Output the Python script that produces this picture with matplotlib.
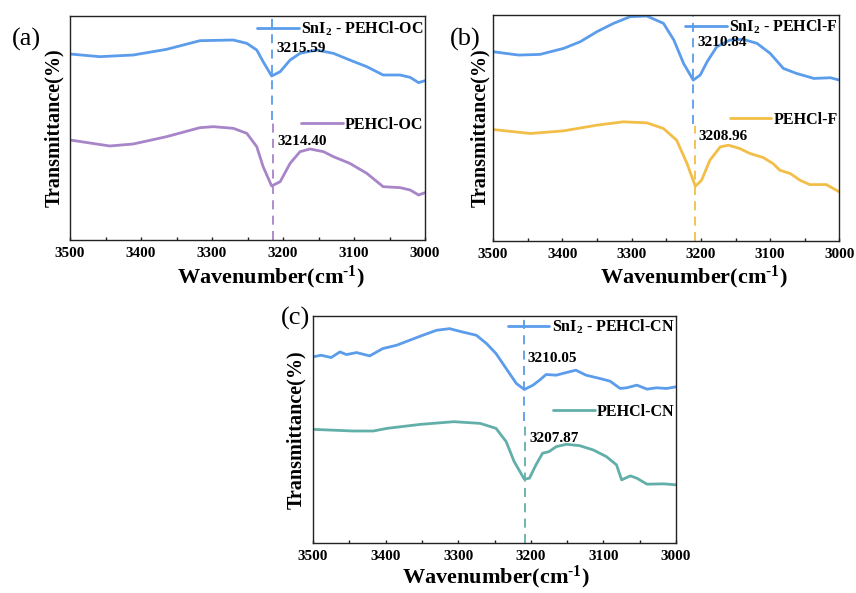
import matplotlib
matplotlib.use("Agg")
import matplotlib.pyplot as plt
from matplotlib.ticker import MultipleLocator

plt.rcParams['font.family'] = ['Liberation Serif', 'DejaVu Serif']
plt.rcParams['mathtext.fontset'] = 'custom'
plt.rcParams['mathtext.rm'] = 'Liberation Serif:bold'
plt.rcParams['mathtext.it'] = 'Liberation Serif:bold'
plt.rcParams['mathtext.bf'] = 'Liberation Serif:bold'

# ---------------- data (arbitrary transmittance units) ----------------
# Panel (a)
a_sn_wn = [3500, 3458, 3411, 3364, 3317, 3270, 3251, 3237, 3228, 3216, 3204, 3190,
           3176, 3153, 3129, 3106, 3082, 3059, 3035, 3021, 3009, 3000]
a_sn_t = [558, 550, 555, 572, 598, 600, 590, 570, 535, 492, 505, 540,
          560, 570, 560, 540, 520, 495, 495, 488, 472, 478]
a_pe_wn = [3500, 3444, 3411, 3364, 3317, 3298, 3270, 3251, 3237, 3228, 3216, 3204,
           3190, 3176, 3162, 3143, 3129, 3106, 3082, 3059, 3035, 3021, 3009, 3000]
a_pe_t = [300, 282, 288, 310, 337, 340, 335, 320, 280, 220, 162, 175,
          230, 265, 273, 265, 250, 230, 200, 160, 157, 150, 135, 142]

# Panel (b)
b_sn_wn = [3500, 3463, 3432, 3398, 3374, 3350, 3326, 3302, 3278, 3254, 3239, 3225,
           3211, 3201, 3191, 3177, 3158, 3139, 3119, 3100, 3081, 3062, 3037, 3013, 3000]
b_sn_t = [567, 557, 559, 577, 597, 627, 652, 672, 674, 652, 602, 532,
          482, 497, 537, 582, 602, 604, 592, 562, 517, 502, 487, 489, 482]
b_pe_wn = [3500, 3446, 3398, 3350, 3312, 3278, 3254, 3235, 3220, 3208, 3199, 3187,
           3172, 3160, 3144, 3129, 3110, 3096, 3086, 3071, 3057, 3043, 3019, 3000]
b_pe_t = [334, 322, 330, 347, 357, 354, 337, 302, 232, 164, 182, 242,
          282, 287, 277, 262, 250, 232, 212, 202, 182, 169, 169, 147]

# Panel (c)
c_sn_wn = [3500, 3489, 3475, 3463, 3454, 3440, 3422, 3404, 3385, 3367, 3349, 3330,
           3312, 3298, 3275, 3261, 3248, 3234, 3220, 3209, 3197, 3188, 3179, 3165,
           3151, 3138, 3124, 3105, 3091, 3077, 3068, 3054, 3040, 3027, 3013, 3000]
c_sn_t = [560, 565, 558, 575, 567, 573, 563, 585, 595, 610, 625, 640,
          645, 637, 625, 600, 570, 525, 480, 462, 475, 490, 507, 505,
          513, 520, 505, 495, 487, 465, 467, 475, 463, 467, 465, 470]
c_pe_wn = [3500, 3445, 3417, 3398, 3352, 3306, 3270, 3248, 3234, 3223, 3209, 3202,
           3193, 3184, 3175, 3165, 3151, 3133, 3114, 3096, 3082, 3075, 3070, 3063,
           3054, 3040, 3017, 3000]
c_pe_t = [342, 337, 337, 345, 357, 365, 360, 345, 305, 245, 192, 195,
          235, 270, 275, 290, 297, 293, 280, 260, 235, 190, 195, 202,
          195, 177, 178, 175]

labels_sn = [r'SnI$_2$ - PEHCl-OC', r'SnI$_2$ - PEHCl-F', r'SnI$_2$ - PEHCl-CN']
labels_pe = ['PEHCl-OC', 'PEHCl-F', 'PEHCl-CN']
peaks_sn = [3215.59, 3210.84, 3210.05]
peaks_pe = [3214.40, 3208.96, 3207.87]
peak_text_sn = ['3215.59', '3210.84', '3210.05']
peak_text_pe = ['3214.40', '3208.96', '3207.87']
xticks = [3500, 3400, 3300, 3200, 3100, 3000]
panel_letters = ['(a)', '(b)', '(c)']

# ---------------- styling / layout ----------------
blue = '#5B9CEB'
pe_colors = ['#A884C9', '#F2BE48', '#62AFAA']
axes_rects = [
    [0.0818, 0.5953, 0.4147, 0.3777],
    [0.5759, 0.5936, 0.4048, 0.3811],
    [0.3657, 0.0843, 0.4241, 0.3828],
]
ytops = [672, 677, 683]
splits = [360, 350, 366]
ann_y_sn = [576, 594, 555]
ann_y_pe = [294, 312, 315]
leg1_y = [0.942, 0.947, 0.951]
leg2_y = [0.513, 0.535, 0.577]
ylabel_pad = [4, 2, 5]
xlabel_x = [0.566, 0.58, 0.504]
xlabel_y = [-0.106, -0.101, -0.093]
letter_pos = [(0.031, 0.934), (0.543, 0.934), (0.345, 0.463)]

data = [
    (a_sn_wn, a_sn_t, a_pe_wn, a_pe_t),
    (b_sn_wn, b_sn_t, b_pe_wn, b_pe_t),
    (c_sn_wn, c_sn_t, c_pe_wn, c_pe_t),
]

fig = plt.figure(figsize=(8.56, 5.93), dpi=100)

for i in range(3):
    ax = fig.add_axes(axes_rects[i])
    sw, st, pw, pt = data[i]
    l1, = ax.plot(sw, st, color=blue, lw=2.0, solid_joinstyle='round',
                  solid_capstyle='round', label=labels_sn[i])
    l2, = ax.plot(pw, pt, color=pe_colors[i], lw=2.0, solid_joinstyle='round',
                  solid_capstyle='round', label=labels_pe[i])
    ax.set_xlim(3500, 3000)
    ax.set_ylim(0, ytops[i])
    ax.set_xticks(xticks)
    ax.xaxis.set_minor_locator(MultipleLocator(50))
    ax.set_xticklabels([str(t) for t in xticks], fontsize=11, fontweight='bold')
    ax.set_yticks([])
    ax.tick_params(axis='x', which='both', direction='in', length=2.5, width=1.0,
                   pad=5, color='#222222')
    for sp in ax.spines.values():
        sp.set_linewidth(1.0)
        sp.set_color('#222222')
    ax.set_xlabel(r'Wavenumber(cm$^{\text{-1}}$)', fontsize=16, fontweight='bold')
    ax.xaxis.set_label_coords(xlabel_x[i], xlabel_y[i])
    ax.xaxis.label.set_va('top')
    ax.set_ylabel('Transmittance(%)', fontsize=14.5, fontweight='bold',
                  labelpad=ylabel_pad[i])

    # dashed peak guides
    ax.plot([peaks_sn[i], peaks_sn[i]], [splits[i], ytops[i]], color=blue,
            lw=1.3, dashes=(5, 3.5))
    ax.plot([peaks_pe[i], peaks_pe[i]], [0, splits[i] - 6], color=pe_colors[i],
            lw=1.3, dashes=(5, 3.5))

    ax.annotate(peak_text_sn[i], xy=(peaks_sn[i], ann_y_sn[i]), xytext=(3, 0),
                textcoords='offset points', ha='left', va='center',
                fontsize=11, fontweight='bold')
    ax.annotate(peak_text_pe[i], xy=(peaks_pe[i], ann_y_pe[i]), xytext=(3, 0),
                textcoords='offset points', ha='left', va='center',
                fontsize=11, fontweight='bold')

    leg1 = ax.legend(handles=[l1], loc='center right', bbox_to_anchor=(1.0, leg1_y[i]),
                     frameon=False, handlelength=2.6, handletextpad=0.15,
                     borderpad=0, borderaxespad=0.1,
                     prop={'family': 'Liberation Serif', 'weight': 'bold', 'size': 11.5})
    ax.add_artist(leg1)
    ax.legend(handles=[l2], loc='center right', bbox_to_anchor=(1.0, leg2_y[i]),
              frameon=False, handlelength=2.6, handletextpad=0.15,
              borderpad=0, borderaxespad=0.1,
              prop={'family': 'Liberation Serif', 'weight': 'bold', 'size': 11.5})

    fig.text(letter_pos[i][0], letter_pos[i][1], panel_letters[i], fontsize=19,
             ha='center', va='center')

fig.savefig('out.png', dpi=100)
